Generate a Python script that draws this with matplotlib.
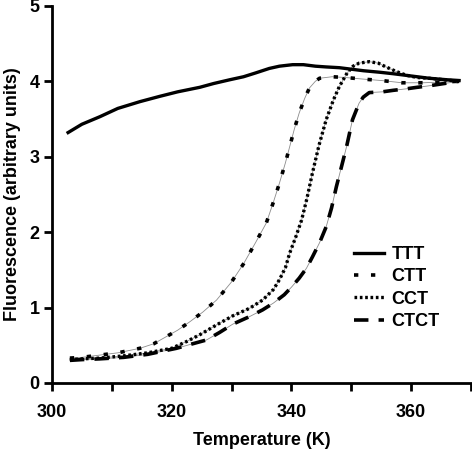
import matplotlib
matplotlib.use("Agg")
import matplotlib.pyplot as plt

plt.rcParams['font.family'] = ['Liberation Sans', 'DejaVu Sans']
plt.rcParams['font.weight'] = 'bold'

# Dados (temperatura em K, fluorescência em unidades arbitrárias)
t_ttt = [302.7, 305, 308, 311, 314.7, 318, 321, 324.7, 327, 329.7, 332, 334,
         336.3, 338, 340.2, 342, 344, 345.8, 348, 350, 352, 354.7, 357, 360, 363, 366, 368]
f_ttt = [3.32, 3.43, 3.53, 3.64, 3.73, 3.80, 3.86, 3.92, 3.97, 4.02, 4.06, 4.11,
         4.17, 4.20, 4.22, 4.22, 4.20, 4.19, 4.18, 4.16, 4.14, 4.12, 4.10, 4.07, 4.04, 4.02, 4.01]

t_ctt = [303, 305, 308, 311, 314.7, 317, 319, 321, 323, 325.2, 327.5, 330, 332, 334,
         335.8, 337, 338, 339, 339.7, 340.5, 341.3, 342.2, 343, 344, 344.7, 346.8,
         349, 351.8, 355, 358.5, 362, 365, 368]
f_ctt = [0.33, 0.34, 0.37, 0.40, 0.46, 0.52, 0.61, 0.70, 0.81, 0.94, 1.10, 1.34, 1.58, 1.86,
         2.12, 2.40, 2.65, 2.92, 3.13, 3.37, 3.58, 3.77, 3.91, 4.00, 4.04, 4.06,
         4.05, 4.03, 4.01, 3.98, 3.98, 3.99, 4.00]

t_cct = [303, 305, 308, 312, 316, 320, 322.5, 324.7, 327.5, 330.2, 333, 335.2, 337,
         338, 339, 339.7, 340.7, 341.7, 342.6, 343.5, 344.6, 345.8, 347, 348, 349.3,
         350.3, 351.3, 353, 354.5, 355.8, 357.5, 359.2, 361, 363, 365.5, 368]
f_cct = [0.31, 0.32, 0.33, 0.36, 0.40, 0.46, 0.55, 0.64, 0.77, 0.89, 0.99, 1.10, 1.24,
         1.37, 1.53, 1.72, 1.93, 2.16, 2.45, 2.78, 3.15, 3.49, 3.75, 3.93, 4.11,
         4.20, 4.24, 4.26, 4.24, 4.19, 4.13, 4.08, 4.05, 4.04, 4.02, 4.00]

t_ctct = [303, 305, 308, 312, 316, 320.8, 323.5, 325.8, 328, 330.2, 333, 335.2, 337,
          338.8, 340, 341.3, 342.5, 343.5, 344.7, 345.8, 346.7, 347.5, 348.4, 349.2,
          350.2, 351.3, 352, 353, 355.2, 357, 359.2, 361, 363, 365.5, 368]
f_ctct = [0.30, 0.31, 0.32, 0.34, 0.38, 0.46, 0.52, 0.57, 0.67, 0.78, 0.88, 0.97, 1.06,
          1.17, 1.27, 1.39, 1.52, 1.67, 1.86, 2.07, 2.32, 2.60, 2.88, 3.13,
          3.49, 3.71, 3.79, 3.85, 3.86, 3.88, 3.90, 3.92, 3.94, 3.97, 4.00]

fig = plt.figure(figsize=(4.72, 4.49), dpi=100)
ax = fig.add_axes([0.110, 0.147, 0.888, 0.840])

# linhas finas cinzas por baixo (como no Excel)
for t, f in [(t_ctt, f_ctt), (t_cct, f_cct), (t_ctct, f_ctct)]:
    ax.plot(t, f, color='0.55', lw=0.6, zorder=1)

ax.plot(t_ttt, f_ttt, color='black', lw=2.4, label='TTT', zorder=3)
ax.plot(t_ctt, f_ctt, color='black', lw=2.6, ls=(0, (1.2, 3.5)), label='CTT', zorder=2)
ax.plot(t_cct, f_cct, color='black', lw=2.4, ls=(0, (0.8, 0.8)), label='CCT', zorder=2)
ax.plot(t_ctct, f_ctct, color='black', lw=2.6, ls=(0, (4, 2.8)), label='CTCT', zorder=2)

ax.set_xlim(300, 370)
ax.set_ylim(0, 5)
ax.set_xticks([300, 320, 340, 360])
ax.set_xticks([310, 330, 350, 370], minor=True)
ax.set_yticks([0, 1, 2, 3, 4, 5])

ax.spines['top'].set_visible(False)
ax.spines['right'].set_visible(False)
ax.spines['left'].set_linewidth(2)
ax.spines['bottom'].set_linewidth(2)
ax.tick_params(axis='both', which='both', direction='out', width=2, length=6,
               labelsize=13)
ax.tick_params(axis='x', pad=9)
ax.tick_params(axis='y', pad=3)

ax.set_xlabel('Temperature (K)', fontsize=13, fontweight='bold', labelpad=8)
ax.set_ylabel('Fluorescence (arbitrary units)', fontsize=13, fontweight='bold', labelpad=6)

leg = ax.legend(loc='center left', bbox_to_anchor=(0.72, 0.252), frameon=False,
                fontsize=13, handlelength=1.7, handletextpad=0.4, labelspacing=0.3,
                borderpad=0, borderaxespad=0)

plt.savefig('out.png', dpi=100)
